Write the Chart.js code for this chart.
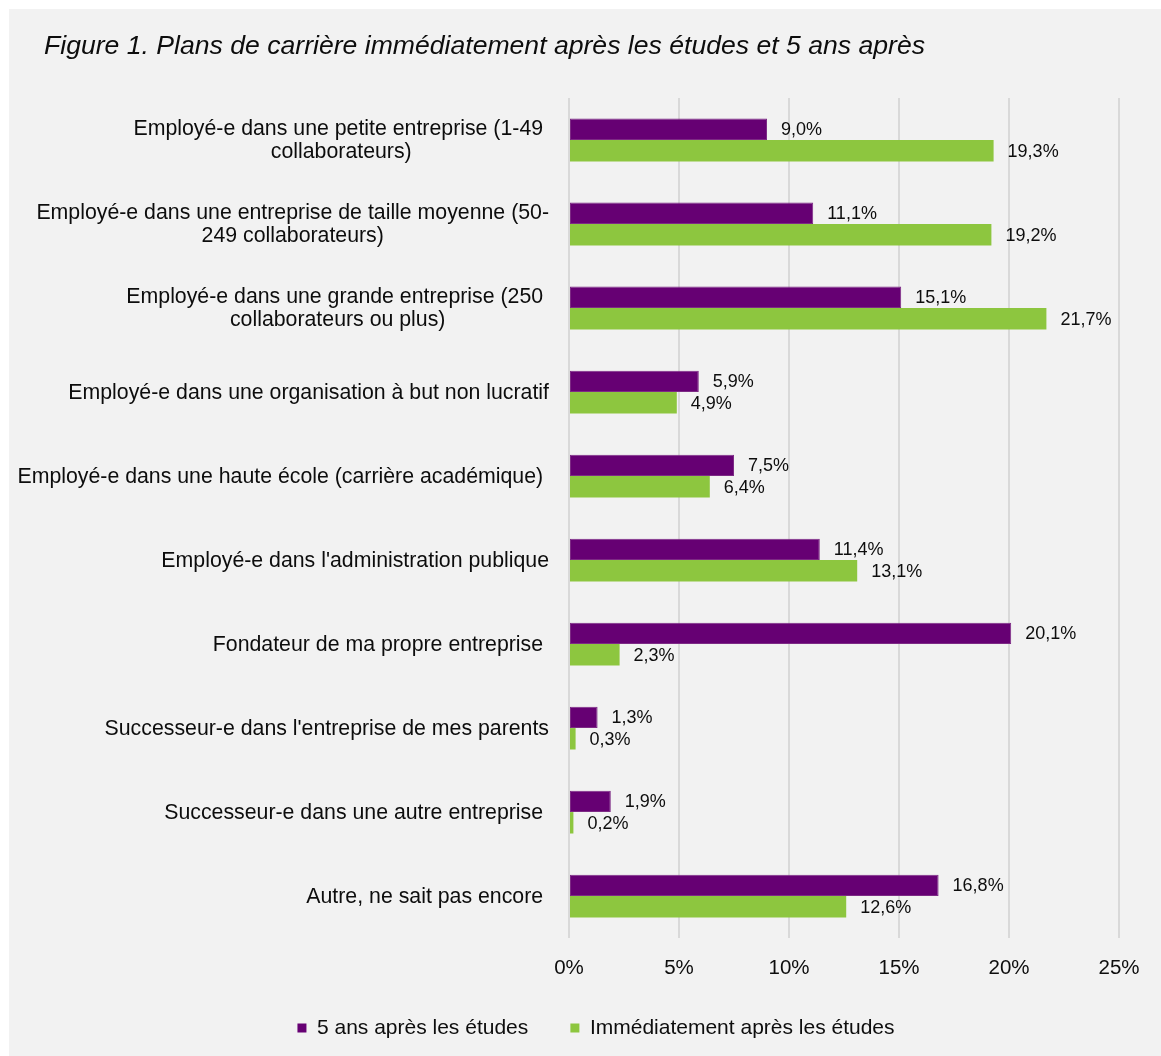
<!DOCTYPE html>
<html>
<head>
<meta charset="utf-8">
<script src="https://cdn.jsdelivr.net/npm/chart.js@4"></script>
<style>
  html, body { margin: 0; padding: 0; background: #ffffff; }
  #wrap { width: 1161px; height: 1056px; }
</style>
</head>
<body>
<div id="wrap"><canvas id="c" width="1161" height="1056"></canvas></div>
<script>
const titleText = "Figure 1. Plans de carrière immédiatement après les études et 5 ans après";
const categories = [
  ["Employé-e dans une petite entreprise (1-49 ", "collaborateurs)"],
  ["Employé-e dans une entreprise de taille moyenne (50-", "249 collaborateurs)"],
  ["Employé-e dans une grande entreprise (250 ", "collaborateurs ou plus)"],
  ["Employé-e dans une organisation à but non lucratif"],
  ["Employé-e dans une haute école (carrière académique) "],
  ["Employé-e dans l'administration publique"],
  ["Fondateur de ma propre entreprise "],
  ["Successeur-e dans l'entreprise de mes parents"],
  ["Successeur-e dans une autre entreprise "],
  ["Autre, ne sait pas encore "]
];
const seriesNames = ["5 ans après les études", "Immédiatement après les études"];
const fiveYears = [9.0, 11.1, 15.1, 5.9, 7.5, 11.4, 20.1, 1.3, 1.9, 16.8];
const immediately = [19.3, 19.2, 21.7, 4.9, 6.4, 13.1, 2.3, 0.3, 0.2, 12.6];
const xTicks = [0, 5, 10, 15, 20, 25];

const FONT = "'Liberation Sans', Arial, sans-serif";
const TEXT = '#0d0d0d';

const bgPlugin = {
  id: 'bg',
  beforeDraw(chart) {
    const ctx = chart.ctx;
    ctx.save();
    ctx.fillStyle = '#ffffff';
    ctx.fillRect(0, 0, chart.width, chart.height);
    ctx.fillStyle = '#f2f2f2';
    ctx.fillRect(9, 9, chart.width - 9, chart.height - 9);
    ctx.restore();
  }
};

const yLabelPlugin = {
  id: 'ylabels',
  afterDraw(chart) {
    const ctx = chart.ctx;
    const ys = chart.scales.y;
    const right = chart.chartArea.left - 20;
    ctx.save();
    ctx.font = '21.3px ' + FONT;
    ctx.fillStyle = TEXT;
    ctx.textAlign = 'center';
    ctx.textBaseline = 'middle';
    const lh = 23;
    categories.forEach((lines, i) => {
      const yc = ys.getPixelForTick(i);
      const widths = lines.map(l => ctx.measureText(l).width);
      const w = Math.max(...widths);
      const cx = right - w / 2;
      const y0 = yc - (lines.length - 1) * lh / 2;
      lines.forEach((l, k) => ctx.fillText(l, cx, y0 + k * lh + 1));
    });
    ctx.restore();
  }
};

const valueLabelPlugin = {
  id: 'vlabels',
  afterDatasetsDraw(chart) {
    const ctx = chart.ctx;
    ctx.save();
    ctx.font = '18px ' + FONT;
    ctx.fillStyle = TEXT;
    ctx.textAlign = 'left';
    ctx.textBaseline = 'middle';
    chart.data.datasets.forEach((ds, di) => {
      const meta = chart.getDatasetMeta(di);
      meta.data.forEach((bar, i) => {
        const v = ds.data[i];
        const txt = v.toFixed(1).replace('.', ',') + '%';
        ctx.fillText(txt, bar.x + 14, bar.y + 1);
      });
    });
    ctx.restore();
  }
};

new Chart(document.getElementById('c'), {
  type: 'bar',
  data: {
    labels: categories,
    datasets: [
      { label: seriesNames[0], data: fiveYears, backgroundColor: '#660073', borderColor: '#7d2a85', borderWidth: 1, borderSkipped: false },
      { label: seriesNames[1], data: immediately, backgroundColor: '#8dc63f', borderColor: '#9bcf55', borderWidth: 0 }
    ]
  },
  options: {
    indexAxis: 'y',
    responsive: false,
    animation: false,
    devicePixelRatio: 1,
    layout: { padding: { left: 44, right: 13, top: 0, bottom: 7.5 } },
    datasets: { bar: { categoryPercentage: 0.51, barPercentage: 1.0 } },
    scales: {
      x: {
        min: 0, max: 25,
        afterBuildTicks(scale) { scale.ticks = xTicks.map(v => ({ value: v })); },
        grid: { display: true, color: '#d9d9d9', lineWidth: 2, drawTicks: false },
        border: { display: false },
        ticks: {
          padding: 18,
          color: TEXT,
          font: { family: FONT, size: 20.5 },
          callback: v => v + '%'
        }
      },
      y: {
        grid: { display: false },
        border: { display: false },
        ticks: { display: false },
        afterFit(scale) { scale.width = 525; }
      },
      yr: {
        type: 'linear',
        position: 'right',
        display: true,
        grid: { display: false },
        border: { display: false },
        ticks: { display: false },
        afterFit(scale) { scale.width = 29; }
      }
    },
    plugins: {
      title: {
        display: true,
        text: titleText,
        align: 'start',
        color: TEXT,
        font: { family: FONT, size: 26.6, style: 'italic', weight: 'normal', lineHeight: 1.2 },
        padding: { top: 30.6, bottom: 35.5 }
      },
      legend: {
        position: 'bottom',
        labels: {
          boxWidth: 9, boxHeight: 9, padding: 18.8,
          color: TEXT,
          font: { family: FONT, size: 21 },
          generateLabels(chart) {
            const items = Chart.defaults.plugins.legend.labels.generateLabels(chart);
            items.forEach((it, i) => {
              it.lineWidth = 0;
              if (i === 0) it.text = it.text + '    ';
            });
            return items;
          }
        }
      },
      tooltip: { enabled: false }
    }
  },
  plugins: [bgPlugin, yLabelPlugin, valueLabelPlugin]
});
</script>
</body>
</html>
